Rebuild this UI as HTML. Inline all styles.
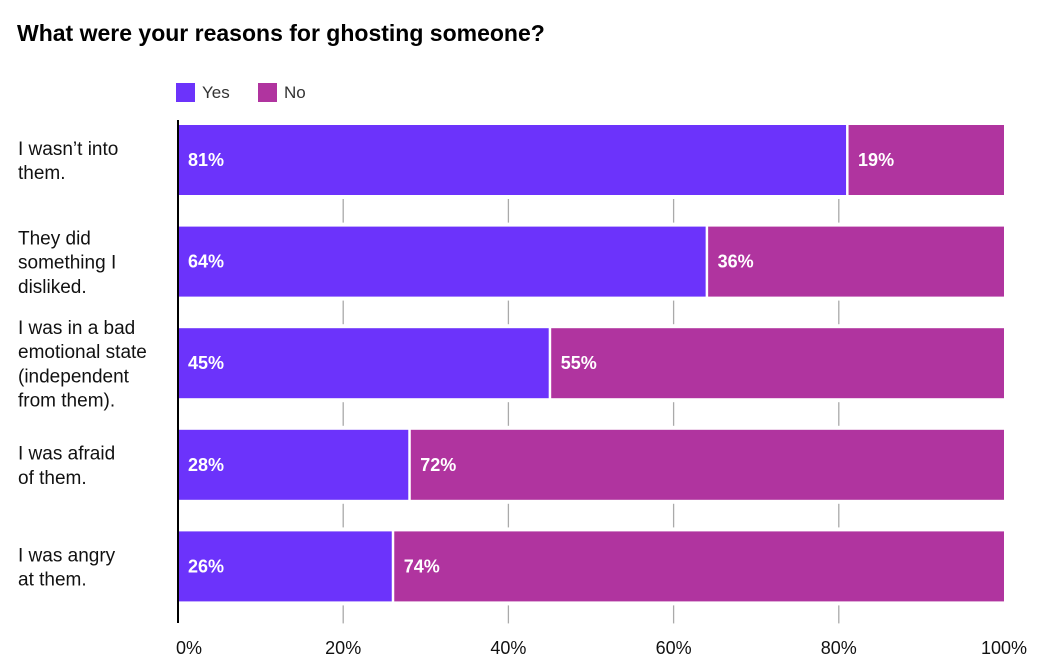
<!DOCTYPE html>
<html><head><meta charset="utf-8"><style>
body{margin:0;background:#fff;font-family:"Liberation Sans",sans-serif;}
svg{display:block}
</style></head><body>
<svg id="c" width="1040" height="665">
<text x="17" y="41" font-size="23" font-weight="bold" fill="#000">What were your reasons for ghosting someone?</text>
<g>
<rect x="176" y="83" width="19" height="19" fill="#6c33fb"/>
<text x="202" y="98" font-size="17" fill="#333">Yes</text>
<rect x="258" y="83" width="19" height="19" fill="#b0349f"/>
<text x="284" y="98" font-size="17" fill="#333">No</text>
</g>
<g id="plot"></g>
</svg>
<script>
const categories=[["I wasn’t into","them."],["They did","something I","disliked."],["I was in a bad","emotional state","(independent","from them)."],["I was afraid","of them."],["I was angry","at them."]];
const yesValues=[81,64,45,28,26];
const noValues=[19,36,55,72,74];
const tickValues=[0,20,40,60,80,100];
const tickLabels=["0%","20%","40%","60%","80%","100%"];
const NS="http://www.w3.org/2000/svg";
const g=document.getElementById("plot");
const x0=178,x1=1004,top0=125,step=101.6,bh=70;
const xs=v=>x0+(x1-x0)*v/100;
const yb=i=>top0+i*step;
function mk(t,a){const e=document.createElementNS(NS,t);for(const k in a)e.setAttribute(k,a[k]);g.appendChild(e);return e;}
// gridlines in gaps
tickValues.forEach((v,ti)=>{if(v===0||v===100)return;
 for(let i=0;i<categories.length;i++){
  const ya=yb(i)+bh+4, yz=(i<categories.length-1?yb(i+1)-4:yb(i)+bh+22);
  const l=mk("line",{x1:xs(v),x2:xs(v),y1:ya,y2:yz,stroke:"#aaa","stroke-width":1.3});
  
  
 }});
categories.forEach((c,i)=>{
 const y=yb(i);
 const r1=mk("rect",{x:xs(0),y:y,width:xs(yesValues[i])-xs(0)-1,height:bh,fill:"#6c33fb"});
 
 
 const r2=mk("rect",{x:xs(yesValues[i])+1.5,y:y,width:xs(100)-xs(yesValues[i])-1.5,height:bh,fill:"#b0349f"});
 
 
 const t1=mk("text",{x:xs(0)+10,y:y+bh/2+6,"font-size":18,"font-weight":"bold",fill:"#fff"});t1.textContent=yesValues[i]+"%";
 
 
 const t2=mk("text",{x:xs(yesValues[i])+11,y:y+bh/2+6,"font-size":18,"font-weight":"bold",fill:"#fff"});t2.textContent=noValues[i]+"%";
 
 
 const lh=24.3, n=c.length, start=y+bh/2-(n-1)*lh/2+7;
 c.forEach((line,j)=>{const t=mk("text",{x:18,y:start+j*lh,"font-size":19,fill:"#111"});t.textContent=line;
  
  });
});
const ax=mk("line",{x1:x0,x2:x0,y1:120,y2:623,stroke:"#000","stroke-width":2});


tickValues.forEach((v,i)=>{
 const t=mk("text",{x:v===0?176:xs(v),y:654,"font-size":18,fill:"#111","text-anchor":v===0?"start":"middle"});
 t.textContent=tickLabels[i];
 
 
});
</script>
</body></html>
